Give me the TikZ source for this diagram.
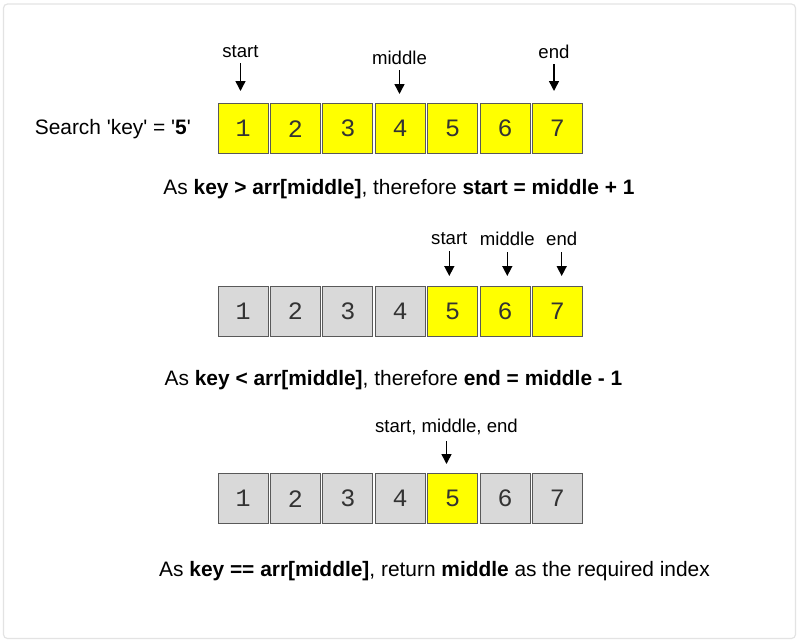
\documentclass[tikz,border=0pt]{standalone}
\usepackage{fontspec}
\setmainfont{Liberation Sans}
\newfontfamily\digitfont{Liberation Mono}
\usetikzlibrary{arrows.meta}
\definecolor{boxyellow}{HTML}{FFFF00}
\definecolor{boxgray}{HTML}{D9D9D9}
\definecolor{boxline}{HTML}{595959}
\definecolor{framecol}{HTML}{E3E3E3}
\definecolor{digitcol}{HTML}{333333}
\tikzset{
  cell/.style={draw=boxline, line width=1pt, minimum width=50pt, minimum height=50pt,
    inner sep=0pt, text=digitcol, font=\digitfont\fontsize{25}{28}\selectfont},
  ycell/.style={cell, fill=boxyellow},
  gcell/.style={cell, fill=boxgray},
  lab/.style={inner sep=0pt, font=\fontsize{18.6}{22}\selectfont},
  captext/.style={inner sep=0pt, font=\fontsize{20.9}{25}\selectfont},
  arr/.style={line width=1.5pt, -{Triangle[length=10pt,width=10pt]}},
}
\begin{document}
\begin{tikzpicture}[x=1pt,y=-1pt]
\useasboundingbox (0,0) rectangle (800,642);
\draw[framecol, line width=1.2pt, rounded corners=4pt] (3.5,4) rectangle (795.5,638.5);
% row 1
\foreach \i in {1,...,7} {
  \node[ycell] (a\i) at ({243+52.4*(\i-1)},128.7) {\i};
}
\node[captext, anchor=east] (search) at (191,128.7) {Search \textquotesingle key\textquotesingle{} = \textquotesingle\textbf{5}\textquotesingle};
\node[lab] (as) at (240.5,52) {start};
\node[lab] (am) at (399.5,58) {middle};
\node[lab] (ae) at (554,52) {end};
\coordinate (tas) at (240.5,91);
\coordinate (tam) at (399.5,94);
\coordinate (tae) at (554,91);
\draw[arr, shorten <=5pt] (as.south) -- (tas);
\draw[arr, shorten <=5pt] (am.south) -- (tam);
\draw[arr, shorten <=5pt] (ae.south) -- (tae);
\node[captext] (c1) at (399,189) {As \textbf{key > arr[middle]}, therefore \textbf{start = middle + 1}};
% row 2
\foreach \i in {1,...,4} {
  \node[gcell] (b\i) at ({243+52.4*(\i-1)},311.3) {\i};
}
\foreach \i in {5,...,7} {
  \node[ycell] (b\i) at ({243+52.4*(\i-1)},311.3) {\i};
}
\node[lab] (bs) at (449.3,239) {start};
\node[lab] (bm) at (507.3,239) {middle};
\node[lab] (be) at (561.7,239) {end};
\coordinate (tbs) at (449.3,276);
\coordinate (tbm) at (507.3,276);
\coordinate (tbe) at (561.7,276);
\draw[arr, shorten <=6pt] (bs.south) -- (tbs);
\draw[arr, shorten <=6pt] (bm.south) -- (tbm);
\draw[arr, shorten <=6pt] (be.south) -- (tbe);
\node[captext] (c2) at (393.5,380) {As \textbf{key < arr[middle]}, therefore \textbf{end = middle - 1}};
% row 3
\foreach \i in {1,...,4,6,7} {
  \node[gcell] (d\i) at ({243+52.4*(\i-1)},498.7) {\i};
}
\node[ycell] (d5) at ({243+52.4*4},498.7) {5};
\node[lab] (dl) at (446.5,427) {start, middle, end};
\coordinate (tdl) at (446.5,464);
\draw[arr, shorten <=6pt] (dl.south) -- (tdl);
\node[captext] (c3) at (434.5,571) {As \textbf{key == arr[middle]}, return \textbf{middle} as the required index};
\end{tikzpicture}
\end{document}
